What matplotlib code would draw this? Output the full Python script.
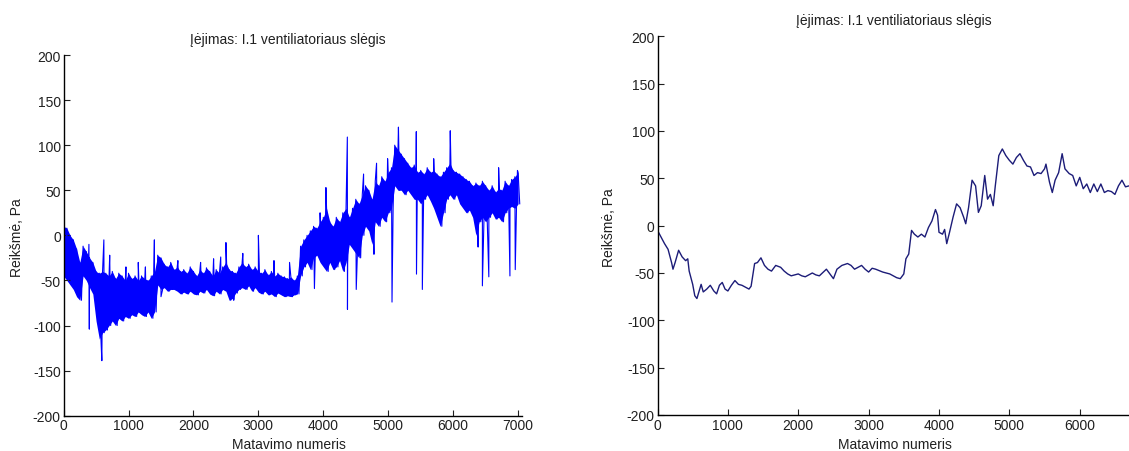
import numpy as np
import matplotlib
matplotlib.use("Agg")
import matplotlib.pyplot as plt

# raw signal: upper / lower edge of the noise band, read every 50 samples
band_hi = [10, 8, 0, -5, -15, -30, -12, -18, -25, -30,
           -40, -42, -40, -42, -45, -40, -48, -42, -45, -50,
           -42, -48, -45, -50, -45, -48, -50, -45, -40, -22,
           -25, -32, -35, -30, -38, -35, -40, -38, -42, -35,
           -40, -45, -38, -42, -36, -40, -45, -38, -42, -35,
           -30, -38, -40, -42, -35, -30, -35, -32, -38, -35,
           -40, -42, -38, -44, -40, -45, -42, -45, -46, -48,
           -46, -50, -45, -12, -5, 0, 5, 10, 8, 15,
           20, 30, 15, 10, 20, 15, 25, 30, 20, 30,
           40, 35, 45, 55, 50, 40, 60, 55, 65, 60,
           70, 75, 100, 95, 90, 85, 80, 75, 78, 70,
           72, 68, 75, 70, 72, 68, 65, 70, 75, 80,
           72, 70, 68, 65, 62, 60, 55, 58, 55, 60,
           55, 50, 55, 48, 52, 50, 60, 55, 62, 65, 70]
band_lo = [-45, -50, -55, -60, -68, -72, -45, -50, -58, -65,
           -95, -115, -108, -105, -100, -95, -100, -92, -95, -90,
           -92, -88, -90, -85, -88, -90, -85, -92, -85, -55,
           -60, -58, -62, -60, -60, -62, -65, -63, -65, -62,
           -65, -66, -62, -64, -60, -65, -67, -62, -65, -60,
           -62, -72, -70, -64, -60, -58, -60, -56, -62, -58,
           -63, -65, -62, -66, -65, -68, -64, -66, -68, -67,
           -68, -66, -65, -45, -35, -30, -38, -25, -22, -30,
           -35, -40, -30, -38, -35, -28, -40, -30, -10, -15,
           -20, -25, 0, 10, 5, -10, 15, 10, 20, 15,
           25, 30, 55, 50, 50, 45, 50, 45, 40, 40,
           35, 40, 45, 38, 30, 20, 10, 25, 40, 45,
           40, 45, 35, 30, 25, 28, 20, 0, 15, 20,
           15, 20, 25, 18, 20, 15, 25, 30, 32, 30, 35]
spike_x = [390, 396, 589, 620, 710, 960, 1150, 1260, 1398, 1500, 1760,
           2110, 2310, 2420, 2500, 2620, 2760, 3000, 3240, 3480, 3863, 3950,
           4040, 4370, 4372, 4507, 4620, 4780, 4820, 4990, 5058, 5157, 5432,
           5435, 5525, 5700, 5955, 6384, 6450, 6549, 6700, 6874, 6956, 6990]
spike_y = [-10, -104, -139, -5, -22, -35, -30, -35, -5, -68, -28,
           -30, -26, -24, -8, -72, -20, 0, -28, -30, -59, 25,
           53, 109, -82, -60, 68, -21, 80, 85, -74, 120, 115,
           -43, -60, 85, 116, -13, -56, -46, 75, -45, -38, 72]

# filtered signal
smooth_x = [0, 100, 150, 200, 220, 250, 300, 350, 400, 430, 450, 500, 530, 560,
            600, 620, 650, 700, 750, 800, 840, 880, 920, 960, 1000, 1050, 1100,
            1150, 1200, 1250, 1300, 1330, 1380, 1420, 1470, 1520, 1570, 1620,
            1680, 1750, 1800, 1850, 1900, 1950, 2000, 2050, 2100, 2200, 2250,
            2300, 2400, 2450, 2500, 2550, 2620, 2700, 2750, 2800, 2850, 2900,
            2950, 3000, 3050, 3100, 3200, 3300, 3400, 3450, 3500, 3530, 3570,
            3610, 3650, 3700, 3750, 3800, 3850, 3900, 3950, 3980, 4000, 4050,
            4080, 4110, 4150, 4200, 4250, 4300, 4350, 4380, 4420, 4470, 4520,
            4560, 4600, 4650, 4690, 4730, 4770, 4800, 4850, 4900, 4950, 5000,
            5050, 5100, 5150, 5200, 5250, 5300, 5350, 5400, 5450, 5500, 5520,
            5570, 5610, 5650, 5700, 5750, 5790, 5850, 5900, 5950, 6000, 6050,
            6100, 6150, 6200, 6250, 6300, 6350, 6400, 6450, 6500, 6550, 6600,
            6650, 6700, 6750]
smooth_y = [-5, -19, -25, -39, -46, -39, -26, -33, -37, -35, -48, -62, -74, -77,
            -67, -62, -70, -67, -63, -69, -72, -63, -60, -67, -69, -63, -58,
            -62, -63, -65, -67, -64, -40, -39, -34, -42, -46, -48,
            -42, -44, -48, -51, -53, -52, -51, -53, -54, -50, -52,
            -53, -46, -51, -56, -46, -42, -40, -42, -46, -44, -42,
            -46, -49, -45, -46, -49, -51, -55, -56, -51, -35, -30,
            -5, -9, -12, -9, -12, -2, 5, 17, 11, -7, -9,
            -4, -19, -7, 9, 23, 19, 9, 2, 19, 48, 42,
            14, 21, 53, 28, 33, 21, 42, 74, 81, 74, 69,
            65, 72, 76, 69, 63, 62, 53, 56, 55, 60, 65,
            46, 35, 48, 56, 76, 60, 55, 53, 42, 51, 39,
            44, 35, 44, 36, 44, 35, 37, 36, 33, 42, 48,
            41, 42, 44]

BLUE = "#0000ff"
NAVY = "#1c1c78"
INK = "#202020"

plt.rcParams.update({
    "font.family": "Liberation Sans", "font.size": 10,
    "text.color": INK, "axes.labelcolor": INK,
    "xtick.color": INK, "ytick.color": INK,
    "xtick.direction": "in", "ytick.direction": "in",
    "xtick.major.size": 4, "ytick.major.size": 4,
    "axes.linewidth": 1.0, "axes.unicode_minus": False,
    "path.simplify": False,
})

W, H = 1129, 452
fig = plt.figure(figsize=(W / 100, H / 100), dpi=100)

ax1 = fig.add_axes([63.6 / W, 1 - 416.7 / H, (522 - 63.6) / W, 360.7 / H])
ax2 = fig.add_axes([657.5 / W, 1 - 416 / H, (W - 657.5) / W, 378.7 / H])

# raw trace: solid band between the edges, then a jagged trace with spikes
idx = np.arange(len(band_hi))
ax1.fill_between(idx * 50, band_lo, band_hi, color=BLUE, lw=0)
raw_x = np.concatenate([idx * 50, idx * 50 + 25, spike_x])
raw_y = np.concatenate([band_hi, band_lo, spike_y])
order = np.argsort(raw_x, kind="stable")
ax1.plot(raw_x[order], raw_y[order], color=BLUE, lw=0.8)
ax1.set_xlim(0, 7060)
ax1.set_xticks(range(0, 7001, 1000))

ax2.plot(smooth_x, smooth_y, color=NAVY, lw=1.0)
ax2.set_xlim(0, 6700)
ax2.set_xticks(range(0, 6001, 1000))

title = "Įėjimas: I.1 ventiliatoriaus slėgis"
for ax in (ax1, ax2):
    ax.set_ylim(-200, 200)
    ax.set_yticks(range(-200, 201, 50))
    ax.spines["top"].set_visible(False)
    ax.spines["right"].set_visible(False)
    ax.tick_params(pad=2)

fig.text(288 / W, 1 - 40 / H, title, ha="center", va="center")
fig.text(894 / W, 1 - 20.7 / H, title, ha="center", va="center")
fig.text(289 / W, 1 - 445 / H, "Matavimo numeris", ha="center", va="center")
fig.text(894.5 / W, 1 - 445 / H, "Matavimo numeris", ha="center", va="center")
fig.text(16.8 / W, 1 - 238 / H, "Reikšmė, Pa", ha="center", va="center",
         rotation=90)
fig.text(609 / W, 1 - 228 / H, "Reikšmė, Pa", ha="center", va="center",
         rotation=90)

fig.savefig("out.png", dpi=100)
